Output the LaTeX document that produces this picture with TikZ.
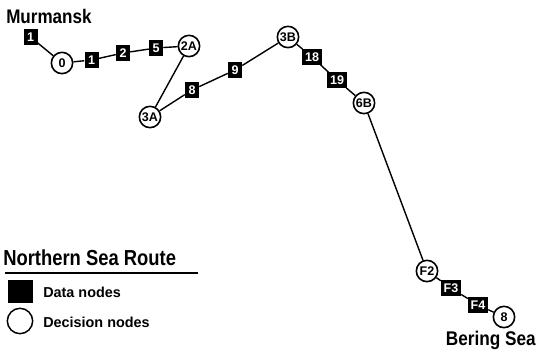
\documentclass[tikz,border=0pt]{standalone}
\usepackage{fontspec}
\setmainfont{Liberation Sans}
\begin{document}
\begin{tikzpicture}[x=0.75pt,y=-0.75pt,
  every node/.style={font=\bfseries},
  datanode/.style={rectangle,fill=black,text=white,inner xsep=2pt,inner ysep=1pt,
     minimum width=10.5pt,minimum height=11.5pt,font=\fontsize{9.4}{10}\selectfont\bfseries},
  decnode/.style={circle,draw=black,line width=1.2pt,fill=white,inner sep=0.5pt,
     minimum size=16pt,font=\fontsize{9.4}{10}\selectfont\bfseries},
  route/.style={draw=black,line width=1.05pt},
  title/.style={inner sep=0pt,anchor=west}]
\useasboundingbox (0,0) rectangle (536,352);
% route nodes
\node[datanode] (d1a) at (30.5,37) {1};
\node[decnode] (c0) at (62,63) {0};
\node[datanode] (d1) at (91.5,60) {1};
\node[datanode] (d2) at (123,53) {2};
\node[datanode] (d5) at (156,48) {5};
\node[decnode] (c2A) at (189,46) {2A};
\node[decnode] (c3A) at (150,117) {3A};
\node[datanode] (d8) at (192,90) {8};
\node[datanode] (d9) at (235,70) {9};
\node[decnode] (c3B) at (288,37) {3B};
\node[datanode] (d18) at (312,57) {18};
\node[datanode] (d19) at (337,80) {19};
\node[decnode] (c6B) at (364,103) {6B};
\node[decnode] (cF2) at (427,271) {F2};
\node[datanode] (dF3) at (451,288) {F3};
\node[datanode] (dF4) at (478,305) {F4};
\node[decnode] (c8) at (504,317) {8};
% connectors
\draw[route] (d1a) -- (c0);
\draw[route] (c0) -- (d1) -- (d2) -- (d5) -- (c2A);
\draw[route] (c2A) -- (c3A);
\draw[route] (c3A) -- (d8) -- (d9) -- (c3B);
\draw[route] (c3B) -- (d18) -- (d19) -- (c6B);
\draw[route] (c6B) -- (cF2);
\draw[route] (cF2) -- (dF3) -- (dF4) -- (c8);
% place labels
\node[title,font=\fontsize{12.8}{13}\selectfont\bfseries] (mur) at (6,16) {\scalebox{1}[1.15]{Murmansk}};
\node[title,anchor=east,font=\fontsize{12.9}{13}\selectfont\bfseries] (ber) at (536,340.5) {\scalebox{1}[1.15]{Bering Sea}};
% legend
\node[title,font=\fontsize{13.8}{14}\selectfont\bfseries] (leg) at (3,258) {\scalebox{1}[1.18]{Northern Sea Route}};
\coordinate (ul1) at (5,273);
\coordinate (ul2) at (198,273);
\draw[line width=1.2pt] (ul1) -- (ul2);
\node[rectangle,fill=black,minimum width=18.5pt,minimum height=17pt,inner sep=0pt] (lsq) at (20.5,291.5) {};
\node[title,font=\fontsize{10.8}{11}\selectfont\bfseries] (ldata) at (43,292) {Data nodes};
\node[circle,draw=black,line width=1.1pt,minimum size=19pt,inner sep=0pt] (lcirc) at (20,321) {};
\node[title,font=\fontsize{10.8}{11}\selectfont\bfseries] (ldec) at (43,322) {Decision nodes};
\end{tikzpicture}
\end{document}
